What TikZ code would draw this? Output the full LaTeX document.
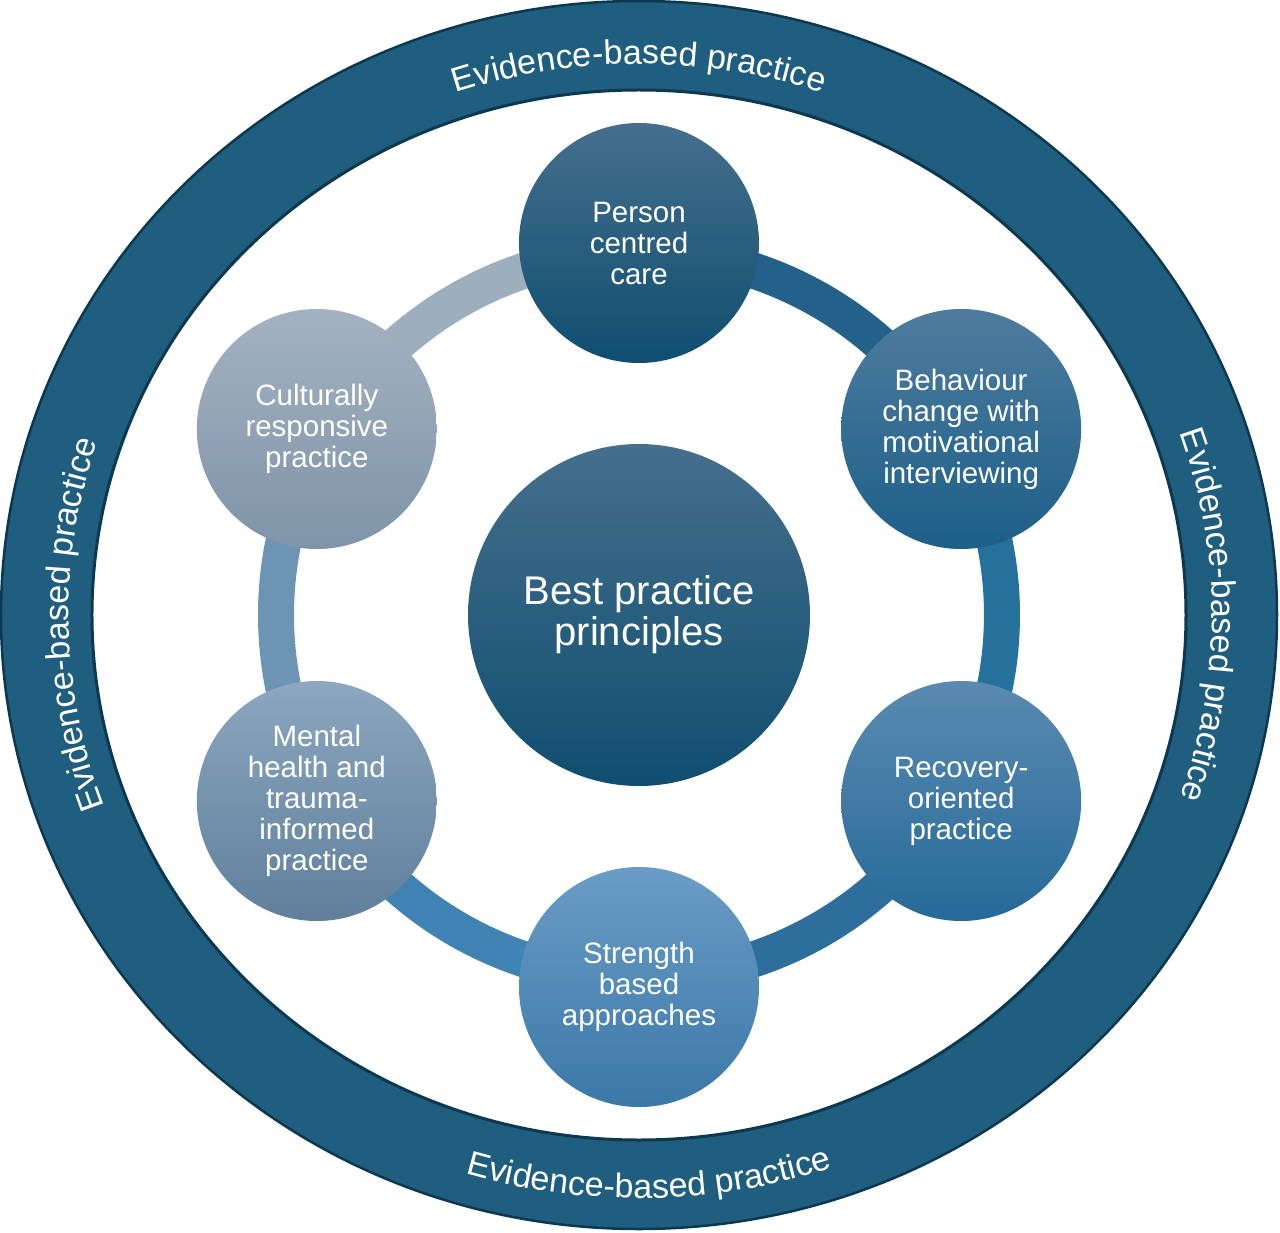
\documentclass[tikz,border=0pt]{standalone}
\usepackage{fontspec}
\setmainfont{Liberation Sans}
\usetikzlibrary{decorations.text}
\definecolor{ringblue}{HTML}{1F5E7E}
\definecolor{ringedge}{HTML}{0C3850}
\definecolor{segA}{HTML}{23618A}
\definecolor{segB}{HTML}{26709C}
\definecolor{segC}{HTML}{2D6E9C}
\definecolor{segD}{HTML}{3F83B5}
\definecolor{segE}{HTML}{6E94B5}
\definecolor{segF}{HTML}{9DAEBD}
\definecolor{pccTop}{HTML}{456F8C}
\definecolor{pccBot}{HTML}{0F4E70}
\definecolor{bcmTop}{RGB}{78,124,158}
\definecolor{bcmBot}{RGB}{29,95,136}
\definecolor{ropTop}{RGB}{90,138,176}
\definecolor{ropBot}{RGB}{37,106,153}
\definecolor{sbaTop}{RGB}{106,156,198}
\definecolor{sbaBot}{RGB}{59,120,168}
\definecolor{mhtTop}{RGB}{140,167,191}
\definecolor{mhtBot}{RGB}{95,127,155}
\definecolor{crpTop}{RGB}{163,178,193}
\definecolor{crpBot}{RGB}{127,148,168}
\newcommand\evfont{\fontsize{34pt}{38pt}\selectfont}
\begin{document}
\begin{tikzpicture}[x=1pt,y=1pt,
  principle/.style={circle, minimum size=240pt, inner sep=0pt, align=center,
    text=white, font=\fontsize{29.5pt}{31pt}\selectfont},
  hub/.style={circle, minimum size=342pt, inner sep=0pt, align=center,
    text=white, font=\fontsize{40pt}{41pt}\selectfont,
    top color=pccTop, bottom color=pccBot},
  band/.style={line width=36pt},
  evtext/.style={decorate, decoration={text along path,
    text={|\evfont|Evidence-based practice}, text align=center, text color=white}}]
\useasboundingbox (-639,-617) rectangle (641,615);
\fill[white] (-639,-617) rectangle (641,615);
% outer ring
\fill[ringblue, even odd rule] (0,0) ellipse[x radius=638, y radius=614]
  (0,0) ellipse[x radius=547, y radius=525];
\draw[ringedge, line width=2.5pt] (0,0) ellipse[x radius=638, y radius=614];
\draw[ringedge, line width=3pt] (0,0) ellipse[x radius=547, y radius=525];
% ring texts
\path[evtext] (150:573 and 551) arc[start angle=150, end angle=30, x radius=573, y radius=551];
\path[evtext] (60:573 and 551) arc[start angle=60, end angle=-60, x radius=573, y radius=551];
\path[evtext] (241:570 and 551) arc[start angle=241, end angle=121, x radius=570, y radius=551];
\path[evtext] (211:607 and 583) arc[start angle=211, end angle=331, x radius=607, y radius=583];
% hub
\coordinate (o) at (0,0);
% band connecting the principles
\draw[band, segA] ([shift={(90:363)}]o) arc[start angle=90, end angle=30, radius=363];
\draw[band, segB] ([shift={(30:363)}]o) arc[start angle=30, end angle=-30, radius=363];
\draw[band, segC] ([shift={(-30:363)}]o) arc[start angle=-30, end angle=-90, radius=363];
\draw[band, segD] ([shift={(-90:363)}]o) arc[start angle=-90, end angle=-150, radius=363];
\draw[band, segE] ([shift={(-150:363)}]o) arc[start angle=-150, end angle=-210, radius=363];
\draw[band, segF] ([shift={(150:363)}]o) arc[start angle=150, end angle=90, radius=363];
% principles
\node[principle, top color=pccTop, bottom color=pccBot] (pcc) at (90:372) {Person\\centred\\care};
\node[principle, top color=bcmTop, bottom color=bcmBot] (bcm) at (30:372) {Behaviour\\change with\\motivational\\interviewing};
\node[principle, top color=ropTop, bottom color=ropBot] (rop) at (-30:372) {Recovery-\\oriented\\practice};
\node[principle, top color=sbaTop, bottom color=sbaBot] (sba) at (-90:372) {Strength\\based\\approaches};
\node[principle, top color=mhtTop, bottom color=mhtBot] (mht) at (-150:372) {Mental\\health and\\trauma-\\informed\\practice};
\node[principle, top color=crpTop, bottom color=crpBot] (crp) at (150:372) {Culturally\\responsive\\practice};
\node[hub] (bpp) at (o) {Best practice\\principles};
\end{tikzpicture}
\end{document}
